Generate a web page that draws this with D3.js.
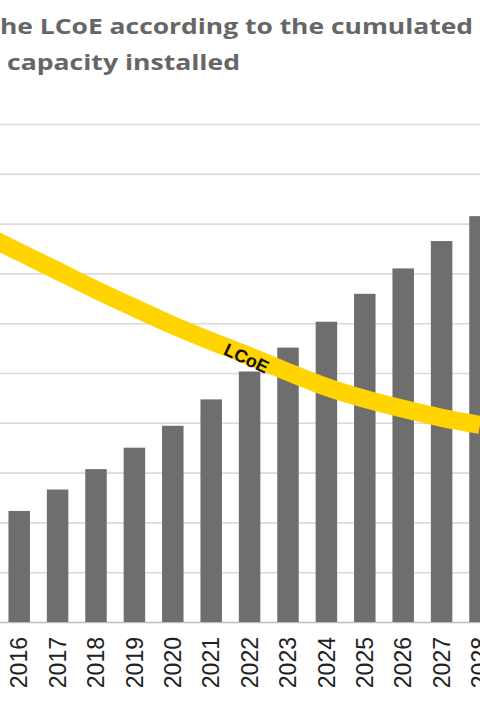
<!DOCTYPE html>
<html>
<head>
<meta charset="utf-8">
<script src="https://cdn.jsdelivr.net/npm/d3@7"></script>
<style>
	html, body { margin: 0; padding: 0; background: #fff; }
	svg { display: block; }
</style>
</head>
<body>
<svg id="lcoe-chart" width="480" height="720"></svg>
<script>
"use strict";

// chart values (units of the left grid, 0-100)
const years = [2016, 2017, 2018, 2019, 2020, 2021, 2022, 2023, 2024, 2025, 2026, 2027, 2028]
const capacity = [22.3, 26.6, 30.7, 35.0, 39.4, 44.7, 50.3, 55.1, 60.3, 65.9, 71.0, 76.5, 81.5]
// the curve starts one year earlier, that bar is outside the crop
const lcoeYears = [2015, 2016, 2017, 2018, 2019, 2020, 2021, 2022, 2023, 2024, 2025, 2026, 2027, 2028]
const lcoe = [78.1, 74.3, 70.5, 66.7, 63.1, 59.6, 56.4, 53.4, 50.2, 47.2, 44.8, 42.8, 41.0, 39.6]
const yTicks = [0, 10, 20, 30, 40, 50, 60, 70, 80, 90, 100]
const titleLines = ['he LCoE according to the cumulated', 'capacity installed']
const lineLabel = 'LCoE'

;(function(slug) {

	const W = 480, H = 720
	const base = 622, top = 124
	const svg = d3.select(`#${slug}`)

	const x = d3.scaleBand()
		.domain(years)
		.range([0, 499.2])
		.paddingInner(0.44)
		.paddingOuter(0.22)
	const y = d3.scaleLinear().domain([0, 100]).range([base, top])
	// year -> centre of its bar, so the curve can run past the first bar
	const xc = d3.scaleLinear()
		.domain([years[0], years[years.length - 1]])
		.range([x(years[0]) + x.bandwidth() / 2, x(years[years.length - 1]) + x.bandwidth() / 2])

	// title (cropped on the left in the original)
	svg.append('g')
		.selectAll('text')
		.data(titleLines)
		.enter()
		.append('text')
		.attr('x', (d, i) => i == 0 ? 0 : 7)
		.attr('y', (d, i) => i == 0 ? 34 : 70)
		.attr('textLength', (d, i) => i == 0 ? 473 : 233)
		.attr('lengthAdjust', 'spacingAndGlyphs')
		.attr('fill', '#666')
		.style('font', '700 22px "Open Sans", sans-serif')
		.text(d => d)

	// grid
	const grid = svg.append('g')
		.call(d3.axisRight(y).tickValues(yTicks).tickSize(W).tickFormat(''))
	grid.select('.domain').remove()
	grid.selectAll('.tick line')
		.attr('stroke', d => d == 0 ? '#bdbdbd' : '#dadada')
		.attr('stroke-width', 1.6)

	// bars
	svg.append('g')
		.selectAll('rect')
		.data(capacity)
		.enter()
		.append('rect')
		.attr('x', (d, i) => x(years[i]))
		.attr('y', d => y(d))
		.attr('width', x.bandwidth())
		.attr('height', d => y(0) - y(d))
		.attr('fill', '#6e6e6e')

	// x axis, years turned upright
	const xa = svg.append('g')
		.attr('transform', `translate(0, ${base})`)
		.call(d3.axisBottom(x).tickSize(0))
	xa.select('.domain').remove()
	xa.selectAll('text')
		.attr('transform', 'rotate(-90)')
		.attr('x', -15)
		.attr('y', 0)
		.attr('dy', '0.36em')
		.attr('fill', '#222')
		.style('text-anchor', 'end')
		.style('font', '23px "Liberation Sans", Arial, sans-serif')

	// LCoE curve
	const line = d3.line()
		.x((d, i) => xc(lcoeYears[i]))
		.y(d => y(d))
		.curve(d3.curveMonotoneX)
	svg.append('path')
		.datum(lcoe)
		.attr('d', line)
		.attr('fill', 'none')
		.attr('stroke', '#ffd400')
		.attr('stroke-width', 18)

	// label sitting on the curve
	svg.append('text')
		.attr('transform', `translate(${xc(2022) - 3}, ${y(lcoe[7]) + 2}) rotate(25)`)
		.attr('text-anchor', 'middle')
		.attr('dy', '0.36em')
		.attr('fill', '#111')
		.style('font', '700 18px "Liberation Sans", Arial, sans-serif')
		.text(lineLabel)

})('lcoe-chart')
</script>
</body>
</html>
